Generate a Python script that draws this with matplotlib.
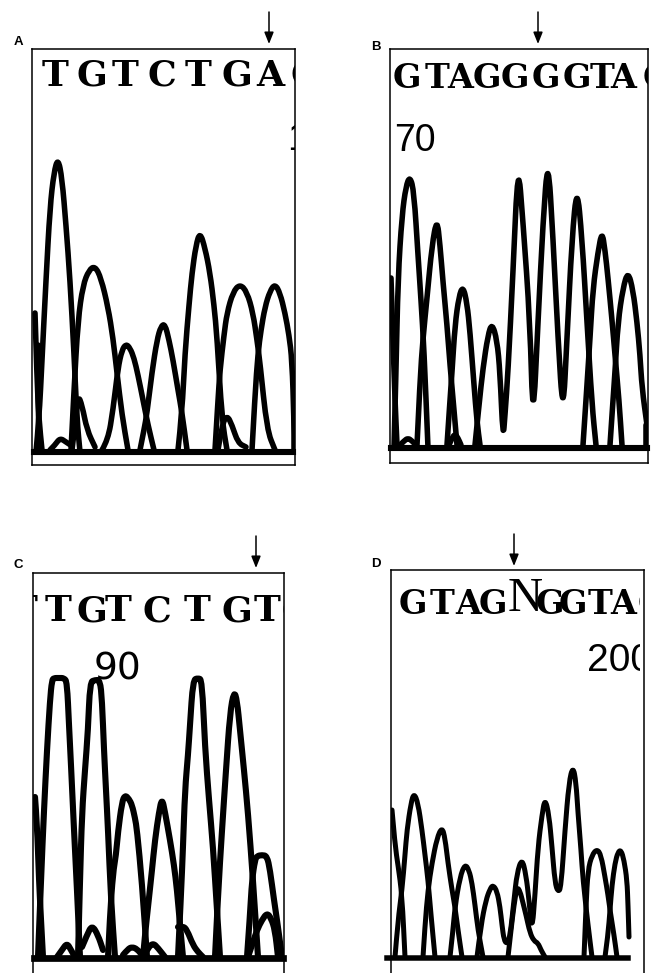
import matplotlib
matplotlib.use('Agg')
import matplotlib.pyplot as plt
from matplotlib.patches import PathPatch, Rectangle
from matplotlib.path import Path

W, H = 654, 973

# traces, one sublist per peak (pixel scale of the scan)
A_x = [
    [36, 39, 42, 46, 50, 54, 58, 62, 66, 70, 74, 77, 80],
    [71, 74, 78, 83, 89, 95, 101, 108, 113, 117, 122, 128],
    [102, 108, 113, 118, 122, 126, 130, 134, 138, 143, 148, 154],
    [140, 144, 147, 152, 157, 161, 165, 169, 173, 178, 182, 187],
    [178, 182, 185, 189, 192, 196, 200, 205, 210, 214, 217, 222, 227],
    [215, 218, 220, 224, 227, 233, 240, 247, 253, 257, 260, 267, 275],
    [252, 255, 258, 261, 265, 270, 275, 280, 285, 289, 292, 294, 294],
    [35, 37, 39, 42],
    [38, 38, 39, 40],
    [72, 75, 78, 82, 87, 95],
    [50, 55, 60, 66, 72],
    [218, 222, 227, 232, 238, 246],
]
A_y = [
    [452, 420, 360, 280, 207, 172, 158, 178, 225, 280, 353, 420, 452],
    [450, 390, 320, 285, 270, 266, 278, 307, 338, 373, 415, 450],
    [450, 440, 410, 368, 350, 344, 348, 358, 375, 400, 425, 450],
    [450, 430, 413, 372, 340, 326, 324, 340, 360, 390, 413, 450],
    [450, 413, 353, 305, 273, 245, 232, 248, 273, 305, 337, 420, 450],
    [450, 400, 370, 335, 313, 292, 284, 292, 313, 340, 363, 430, 450],
    [450, 395, 353, 330, 307, 291, 284, 293, 313, 335, 360, 420, 450],
    [313, 380, 420, 450],
    [345, 400, 430, 452],
    [450, 425, 395, 405, 430, 447],
    [450, 445, 438, 442, 446],
    [450, 425, 415, 425, 443, 447],
]

B_x = [
    [394, 396, 398, 402, 406, 410, 414, 418, 421, 424, 428],
    [417, 420, 423, 427, 432, 437, 440, 443, 447, 450, 454, 457],
    [447, 450, 452, 455, 459, 463, 467, 470, 474, 477, 480],
    [475, 479, 483, 488, 492, 497, 500, 503, 505, 508, 513, 518, 523, 530,
     533, 538, 543, 548, 553, 558, 563, 567, 572, 577, 582, 587, 592, 596],
    [583, 587, 590, 593, 598, 602, 605, 608, 612, 615, 619, 622],
    [610, 613, 615, 618, 623, 628, 633, 637, 640, 642, 647],
    [391, 393, 395, 397],
    [400, 404, 408, 412, 416],
    [449, 452, 455, 458, 461],
    [646, 646],
]
B_y = [
    [448, 372, 278, 215, 186, 176, 192, 255, 300, 350, 448],
    [445, 380, 338, 298, 245, 218, 245, 282, 325, 365, 410, 445],
    [445, 400, 372, 325, 296, 286, 303, 332, 385, 422, 445],
    [445, 405, 368, 335, 323, 340, 372, 440, 415, 372, 272, 160, 222, 322,
     428, 322, 222, 155, 238, 338, 418, 338, 238, 185, 238, 322, 405, 445],
    [445, 385, 338, 288, 252, 231, 250, 278, 320, 355, 400, 445],
    [445, 400, 372, 322, 288, 271, 290, 322, 355, 388, 425],
    [278, 340, 400, 445],
    [445, 441, 438, 441, 445],
    [445, 438, 434, 438, 445],
    [425, 448],
]

C_x = [
    [38, 41, 44, 47, 50, 52, 54, 59, 64, 67, 69, 71, 74, 77, 80],
    [78, 80, 82, 85, 88, 90, 95, 100, 102, 104, 106, 108, 111, 115],
    [108, 110, 113, 116, 118, 122, 125, 129, 132, 135, 137, 142, 147],
    [143, 145, 148, 152, 155, 159, 162, 165, 170, 174, 177, 180, 183],
    [178, 181, 183, 185, 188, 190, 193, 198, 202, 205, 209, 213, 217, 220],
    [215, 218, 222, 226, 230, 234, 237, 240, 244, 248, 253, 258],
    [247, 250, 252, 255, 257, 262, 267, 270, 274, 277, 282],
    [248, 252, 257, 262, 267, 271, 275, 278],
    [57, 62, 67, 71, 75],
    [82, 87, 92, 98, 103],
    [123, 128, 132, 137, 142],
    [143, 148, 153, 158, 165],
    [178, 183, 187, 193, 198, 203],
    [35, 37, 39, 41, 43],
]
C_y = [
    [957, 880, 810, 750, 700, 680, 678, 678, 678, 682, 725, 765, 830, 890, 957],
    [957, 880, 813, 770, 730, 682, 680, 680, 700, 750, 790, 830, 900, 957],
    [957, 915, 873, 855, 832, 802, 795, 799, 805, 818, 830, 883, 957],
    [957, 935, 907, 870, 840, 812, 798, 812, 840, 865, 890, 925, 957],
    [957, 895, 847, 790, 755, 725, 680, 678, 680, 747, 800, 847, 910, 957],
    [957, 895, 830, 770, 713, 691, 700, 730, 770, 813, 880, 957],
    [957, 915, 880, 860, 856, 855, 856, 870, 900, 920, 957],
    [957, 945, 930, 920, 913, 918, 930, 957],
    [957, 950, 943, 950, 957],
    [947, 935, 925, 935, 950],
    [955, 949, 947, 949, 955],
    [957, 948, 943, 948, 957],
    [927, 926, 930, 945, 952, 957],
    [797, 823, 880, 920, 957],
]

D_x = [
    [392, 395, 398, 402, 405],
    [395, 398, 402, 405, 407, 411, 414, 418, 422, 425, 428, 431, 435],
    [423, 425, 428, 432, 437, 442, 445, 448, 452, 455, 458, 462],
    [450, 453, 455, 460, 465, 469, 472, 475, 478, 483],
    [477, 481, 486, 490, 493, 497, 500, 502, 504, 507, 510, 514, 517, 522,
     526, 529, 532, 535, 538, 542, 545, 549, 552, 555, 558, 561, 565, 569,
     573, 576, 578, 581, 583, 588, 592],
    [508, 511, 514, 517, 520, 523, 526, 530, 534, 538, 541, 545],
    [584, 586, 588, 592, 597, 601, 605, 608, 610, 614, 617],
    [605, 608, 610, 612, 615, 618, 621, 624, 627, 628, 629],
]
D_y = [
    [810, 845, 865, 895, 957],
    [957, 920, 890, 855, 830, 803, 793, 803, 830, 855, 880, 915, 957],
    [957, 925, 890, 863, 838, 827, 838, 863, 890, 907, 930, 957],
    [957, 930, 907, 877, 864, 870, 883, 905, 930, 957],
    [957, 925, 900, 889, 885, 891, 907, 925, 940, 944, 937, 900, 873, 858,
     875, 900, 932, 895, 847, 815, 798, 815, 847, 883, 892, 888, 830, 782,
     766, 782, 813, 850, 880, 925, 957],
    [957, 930, 905, 887, 891, 903, 915, 933, 941, 943, 950, 957],
    [957, 905, 870, 855, 849, 855, 877, 895, 910, 935, 957],
    [957, 935, 910, 885, 863, 852, 850, 860, 880, 905, 937],
]

A_seq = 'TGTCTGAC'
B_seq = 'GTAGGGGTAC'
C_seq = 'TTGTCTGTC'
D_seq = 'GTAGNGGTAG'

# left, top, right, bottom of each frame in pixels
A_box = (32, 49, 295, 465)
B_box = (390, 49, 648, 463)
C_box = (33, 573, 284, 973)
D_box = (391, 570, 644, 973)

A_lx = [55, 92, 125, 162, 198, 237, 270, 305]
B_lx = [407, 437, 460, 487, 515, 546, 577, 602, 623, 656]
C_lx = [24, 58, 92, 118, 157, 197, 237, 267, 296]
D_lx = [413, 442, 468, 493, 525, 550, 573, 600, 623, 652]

plt.rcParams['font.family'] = ['Liberation Sans', 'DejaVu Sans']
fig = plt.figure(figsize=(W / 100, H / 100), dpi=100)


def trace(ax, x, y, lw):
    # rounded line through the read points
    pts = list(zip(x, y))
    verts = [pts[0]]
    codes = [Path.MOVETO]
    for i in range(1, len(pts) - 1):
        mid = ((pts[i][0] + pts[i + 1][0]) / 2, (pts[i][1] + pts[i + 1][1]) / 2)
        verts += [pts[i], mid]
        codes += [Path.CURVE3, Path.CURVE3]
    verts.append(pts[-1])
    codes.append(Path.LINETO)
    ax.add_patch(PathPatch(Path(verts, codes), fc='none', ec='black', lw=lw, capstyle='round', joinstyle='round'))


def panel(box, xs, ys, lw, base_y, base_x, seq, lx, ly, size, arrow, label, lab_xy, clip_right=None):
    l, t, r, b = box
    ax = fig.add_axes([l / W, 1 - b / H, (r - l) / W, (b - t) / H])
    ax.set_xlim(l, r)
    ax.set_ylim(b, t)
    ax.set_xticks([])
    ax.set_yticks([])
    for s in ax.spines.values():
        s.set_linewidth(1.1)
    if b == H:
        ax.spines['bottom'].set_visible(False)
    right = clip_right if clip_right else r
    clip = Rectangle((l, t), right - l, b - t, transform=ax.transData)
    for x, y in zip(xs, ys):
        trace(ax, x, y, lw)
    ax.plot(base_x, [base_y, base_y], color='black', lw=lw * 1.1, clip_on=False)
    for ch, x in zip(seq, lx):
        if ch == 'N':
            t1 = ax.text(x, ly - 5, ch, family='Liberation Serif', fontsize=35, ha='center',
                         va='center', color='black', clip_on=True)
        else:
            t1 = ax.text(x, ly, ch, family='DejaVu Serif', weight='bold', fontsize=size, ha='center',
                         va='center', color='black', clip_on=True)
        t1.set_clip_path(clip)
    ax.annotate('', xy=(arrow[0], arrow[2]), xytext=(arrow[0], arrow[1]), annotation_clip=False,
                arrowprops=dict(arrowstyle='-|>,head_width=0.28,head_length=0.7', color='black',
                                lw=1.1, shrinkA=0, shrinkB=0))
    fig.text(lab_xy[0] / W, 1 - lab_xy[1] / H, label, fontsize=9.5, weight='bold', ha='center', va='center')
    return ax, clip


ax, clip = panel(A_box, A_x, A_y, 4.0, 452, [34, 293], A_seq, A_lx, 76, 26, (269, 12, 44), 'A', (18, 42))
t1 = ax.text(298, 140, '1', fontsize=27, ha='center', va='center', clip_on=True)
t1.set_clip_path(clip)

ax, clip = panel(B_box, B_x, B_y, 4.0, 448, [391, 647], B_seq, B_lx, 78, 24, (538, 12, 44), 'B', (376, 47))
ax.text(415, 141, '70', fontsize=27, ha='center', va='center')

ax, clip = panel(C_box, C_x, C_y, 4.4, 958, [34, 283], C_seq, C_lx, 611, 26, (256, 536, 568), 'C', (18, 565))
ax.text(117, 669, '90', fontsize=27, family='DejaVu Sans', ha='center', va='center')

ax, clip = panel(D_box, D_x, D_y, 3.6, 958, [387, 628], D_seq, D_lx, 604, 24, (514, 534, 566), 'D', (376, 564),
                 clip_right=640)
t1 = ax.text(587, 661, '200', fontsize=28, ha='left', va='center', clip_on=True)
t1.set_clip_path(clip)

fig.savefig('out.png', dpi=100, facecolor='white')
